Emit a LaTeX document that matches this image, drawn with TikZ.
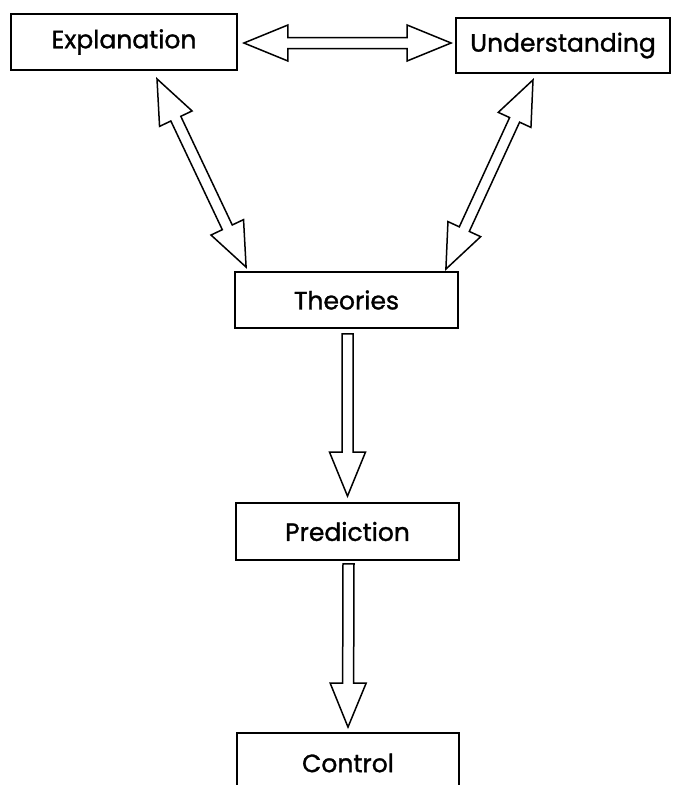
\documentclass[tikz,border=0pt]{standalone}
\usepackage{fontspec}
\newfontfamily\labelfont[FakeBold=1.2]{Poppins}
\usetikzlibrary{calc}

% hollow block arrows: head length, head half-width, shaft half-width
\newcommand\arrHeadLen{44pt}
\newcommand\arrHeadHalf{18pt}
\newcommand\arrShaftHalf{5.5pt}

% double-headed block arrow between two tips
\newcommand\dblblock[2]{%
  \draw[blockarrow] (#1)
    -- ($(#1)!\arrHeadLen!(#2)!\arrHeadHalf!90:(#2)$)
    -- ($(#1)!\arrHeadLen!(#2)!\arrShaftHalf!90:(#2)$)
    -- ($(#2)!\arrHeadLen!(#1)!\arrShaftHalf!-90:(#1)$)
    -- ($(#2)!\arrHeadLen!(#1)!\arrHeadHalf!-90:(#1)$)
    -- (#2)
    -- ($(#2)!\arrHeadLen!(#1)!\arrHeadHalf!90:(#1)$)
    -- ($(#2)!\arrHeadLen!(#1)!\arrShaftHalf!90:(#1)$)
    -- ($(#1)!\arrHeadLen!(#2)!\arrShaftHalf!-90:(#2)$)
    -- ($(#1)!\arrHeadLen!(#2)!\arrHeadHalf!-90:(#2)$)
    -- cycle;}

% single-headed block arrow from a flat back end to a tip
\newcommand\oneblock[2]{%
  \draw[blockarrow] ($(#1)!\arrShaftHalf!90:(#2)$)
    -- ($(#2)!\arrHeadLen!(#1)!\arrShaftHalf!-90:(#1)$)
    -- ($(#2)!\arrHeadLen!(#1)!\arrHeadHalf!-90:(#1)$)
    -- (#2)
    -- ($(#2)!\arrHeadLen!(#1)!\arrHeadHalf!90:(#1)$)
    -- ($(#2)!\arrHeadLen!(#1)!\arrShaftHalf!90:(#1)$)
    -- ($(#1)!\arrShaftHalf!-90:(#2)$)
    -- cycle;}

\begin{document}
\begin{tikzpicture}[x=1pt,y=-1pt,
  box/.style={draw, line width=1.8pt, inner sep=0pt,
    font=\labelfont\fontsize{25}{30}\selectfont},
  blockarrow/.style={draw, line width=1.5pt, line join=miter, fill=white}]

\useasboundingbox (0,0) rectangle (675,785);
\clip (0,0) rectangle (675,785);
\fill[white] (0,0) rectangle (675,785);

% boxes
\node[box, minimum width=226pt, minimum height=56pt] (expl) at (124,42) {Explanation};
\node[box, minimum width=214pt, minimum height=55pt] (under) at (563,45.5) {Understanding};
\node[box, minimum width=223pt, minimum height=56pt] (theo) at (346.5,300) {Theories};
\node[box, minimum width=223pt, minimum height=57pt] (pred) at (347.5,531.5) {Prediction};
\node[box, minimum width=222pt, minimum height=60pt] (ctrl) at (348,763) {Control};

% arrow tips next to the boxes
\coordinate (h1) at ([xshift=6pt,yshift=-1pt]expl.east);
\coordinate (h2) at ([xshift=-4pt]h1 -| under.west);
\coordinate (l1) at ([xshift=33pt,yshift=-8pt]expl.south);
\coordinate (l2) at ([xshift=12pt,yshift=4pt]theo.north west);
\coordinate (r1) at ([xshift=-30pt,yshift=-6pt]under.south);
\coordinate (r2) at ([xshift=-13pt,yshift=2pt]theo.north east);
\coordinate (v1) at ([xshift=1pt,yshift=-5pt]theo.south);
\coordinate (v2) at ([yshift=6pt]pred.north);
\coordinate (w1) at ([xshift=1pt,yshift=-3pt]pred.south);
\coordinate (w2) at ([yshift=5pt]ctrl.north);

% connectors
\dblblock{h1}{h2}
\dblblock{l1}{l2}
\dblblock{r1}{r2}
\oneblock{v1}{v2}
\oneblock{w1}{w2}
\end{tikzpicture}
\end{document}
